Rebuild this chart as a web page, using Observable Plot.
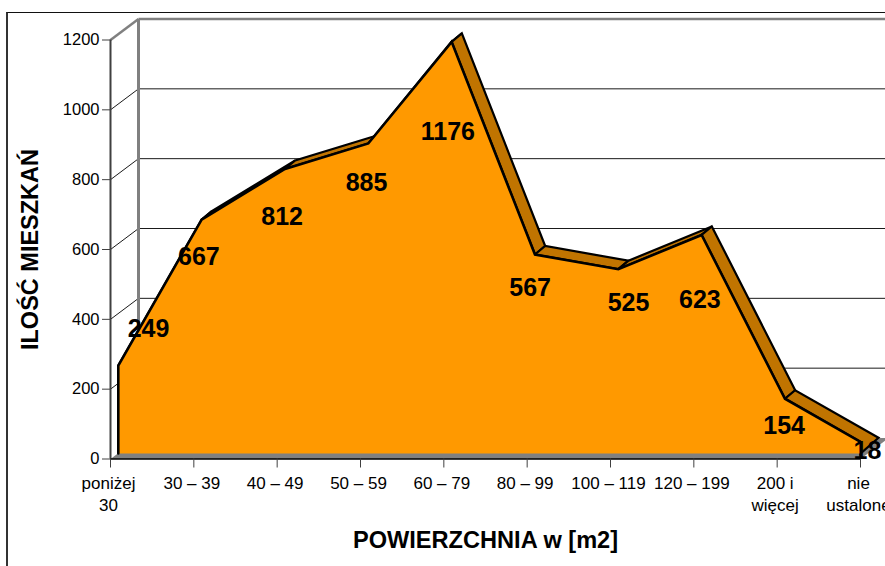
<!DOCTYPE html>
<html><head><meta charset="utf-8">
<script src="https://cdn.jsdelivr.net/npm/d3@7"></script>
<script src="https://cdn.jsdelivr.net/npm/@observablehq/plot@0.6"></script>
<style>
html,body{margin:0;padding:0;background:#fff;overflow:hidden;width:885px;height:566px}
#frame{position:absolute;left:6px;top:12px;width:900px;height:600px;border-left:2px solid #333;border-top:1px solid #111;pointer-events:none}
#chart{position:absolute;left:0;top:0}
</style></head><body>
<div id="chart"></div><div id="frame"></div>
<script>
const categories = ["poniżej\n30","30 – 39","40 – 49","50 – 59","60 – 79","80 – 99","100 – 119","120 – 199","200 i\nwięcej","nie\nustalone"];
const values = [249,667,812,885,1176,567,525,623,154,18];
const yTicks = [0,200,400,600,800,1000,1200];
const xTitle = "POWIERZCHNIA w [m2]";
const yTitle = "ILOŚĆ MIESZKAŃ";

// pixel geometry of the pseudo-3D projection
const W=885,H=566,mL=110,mR=25,mT=39.5,mB=107.5;
const unitX=(W-mL-mR)/9, unitY=(H-mT-mB)/1200;
const P=(i,v,ox,oy)=>({x:i+ox/unitX,y:v+oy/unitY});
const F=[7.8,6.5], B=[18,15], W3=[28,21], baseDepth=5.5;
const last=values.length-1;
const front=values.map((v,i)=>P(i,v,...F));
const back=values.map((v,i)=>P(i,v,...B));
// the face stops at the last tick
const t=1-F[0]/unitX;
const clipPt=P(last,values[last-1]+(values[last]-values[last-1])*t,0,F[1]);
clipPt.x=last;
const baseL=P(0,0,F[0],baseDepth), baseR=P(last,0,0,baseDepth);

const ribbons=[];
for(let i=0;i<last;i++){
  const q= i<last-1 ? [front[i],back[i],back[i+1],front[i+1],front[i]]
                    : [front[i],back[i],back[i+1],baseR,clipPt,front[i]];
  q.forEach(p=>ribbons.push({...p,seg:i}));
}
const face=[baseL,...front.slice(0,last),clipPt,baseR,baseL];
const outline=[baseL,...front.slice(0,last),clipPt];
const floor=[P(0,0,0,0),P(last,0,0,0),P(last,0,...W3),P(0,0,...W3),P(0,0,0,0)];
const labelShift=[[38,-43],[5,31],[5,42],[6,33],[4,84],[3,27],[18,27],[6,59],[7,21],[7,-2]];

const marks=[
  // back wall grid
  Plot.link(yTicks.filter(d=>d>0&&d<1200),{x1:()=>P(0,0,W3[0],0).x,x2:()=>P(last,0,W3[0],0).x,y1:d=>P(0,d,...W3).y,y2:d=>P(0,d,...W3).y,stroke:"#1a1a1a",strokeWidth:1}),
  Plot.link(yTicks.filter(d=>d>0&&d<1200),{x1:0,x2:()=>P(0,0,W3[0],0).x,y1:d=>d,y2:d=>P(0,d,...W3).y,stroke:"#1a1a1a",strokeWidth:1}),
  Plot.link([1200],{x1:()=>P(0,0,W3[0],0).x,x2:()=>P(last,0,W3[0],0).x,y1:d=>P(0,d,...W3).y,y2:d=>P(0,d,...W3).y,stroke:"#808080",strokeWidth:2.5}),
  Plot.link([1200],{x1:0,x2:()=>P(0,0,W3[0],0).x,y1:d=>d,y2:d=>P(0,d,...W3).y,stroke:"#808080",strokeWidth:2.5}),
  Plot.link([0],{x1:()=>P(0,0,W3[0],0).x,x2:()=>P(0,0,W3[0],0).x,y1:()=>P(0,0,...W3).y,y2:()=>P(0,1200,...W3).y,stroke:"#808080",strokeWidth:3}),
  // floor
  Plot.line(floor,{x:"x",y:"y",fill:"#808080",stroke:"none"}),
  // ribbon and face
  Plot.line(ribbons,{x:"x",y:"y",z:"seg",fill:"#C07400",stroke:"#000",strokeWidth:2.2,strokeLinejoin:"miter",strokeMiterlimit:4}),
  Plot.line(face,{x:"x",y:"y",fill:"#FF9900",stroke:"none"}),
  Plot.line(outline,{x:"x",y:"y",stroke:"#000",strokeWidth:2.6,strokeLinejoin:"miter",strokeMiterlimit:4}),
  // axes
  Plot.ruleX([0],{y1:0,y2:1200,stroke:"#404040",strokeWidth:2}),
  Plot.ruleY([0],{x1:0,x2:last,stroke:"#000",strokeWidth:1.6}),
  Plot.axisY({ticks:yTicks,tickFormat:d=>String(d),tickSize:8,tickPadding:3,label:null,stroke:"#404040",fill:"#000",fontSize:16.5}),
  Plot.axisX({ticks:d3.range(10),tickFormat:()=>"",tickSize:9,label:null,stroke:"#404040"}),
  Plot.axisX({ticks:d3.range(10),tickFormat:i=>categories[i],tickSize:0,tickPadding:15,dx:-2,label:null,fill:"#000",fontSize:17,lineHeight:1.27}),
  // titles
  Plot.text([xTitle],{text:d=>d,frameAnchor:"bottom",lineAnchor:"middle",dy:81.5,fontSize:23.6,fontWeight:"bold",fill:"#000"}),
  Plot.text([yTitle],{text:d=>d,frameAnchor:"left",textAnchor:"middle",dx:-80,rotate:-90,fontSize:23.5,fontWeight:"bold",fill:"#000"}),
  // value labels
  ...values.map((v,i)=>Plot.text([v],{x:()=>i,y:d=>d,text:d=>String(d),dx:labelShift[i][0],dy:labelShift[i][1],fontSize:25,fontWeight:"bold",fill:"#000"}))
];

const svg=Plot.plot({
  width:W,height:H,marginLeft:mL,marginRight:mR,marginTop:mT,marginBottom:mB,
  style:{fontFamily:"'Liberation Sans',Arial,sans-serif",background:"transparent",overflow:"hidden"},
  x:{type:"linear",domain:[0,last]},
  y:{type:"linear",domain:[0,1200]},
  marks
});
document.getElementById("chart").appendChild(svg);
</script>
</body></html>
